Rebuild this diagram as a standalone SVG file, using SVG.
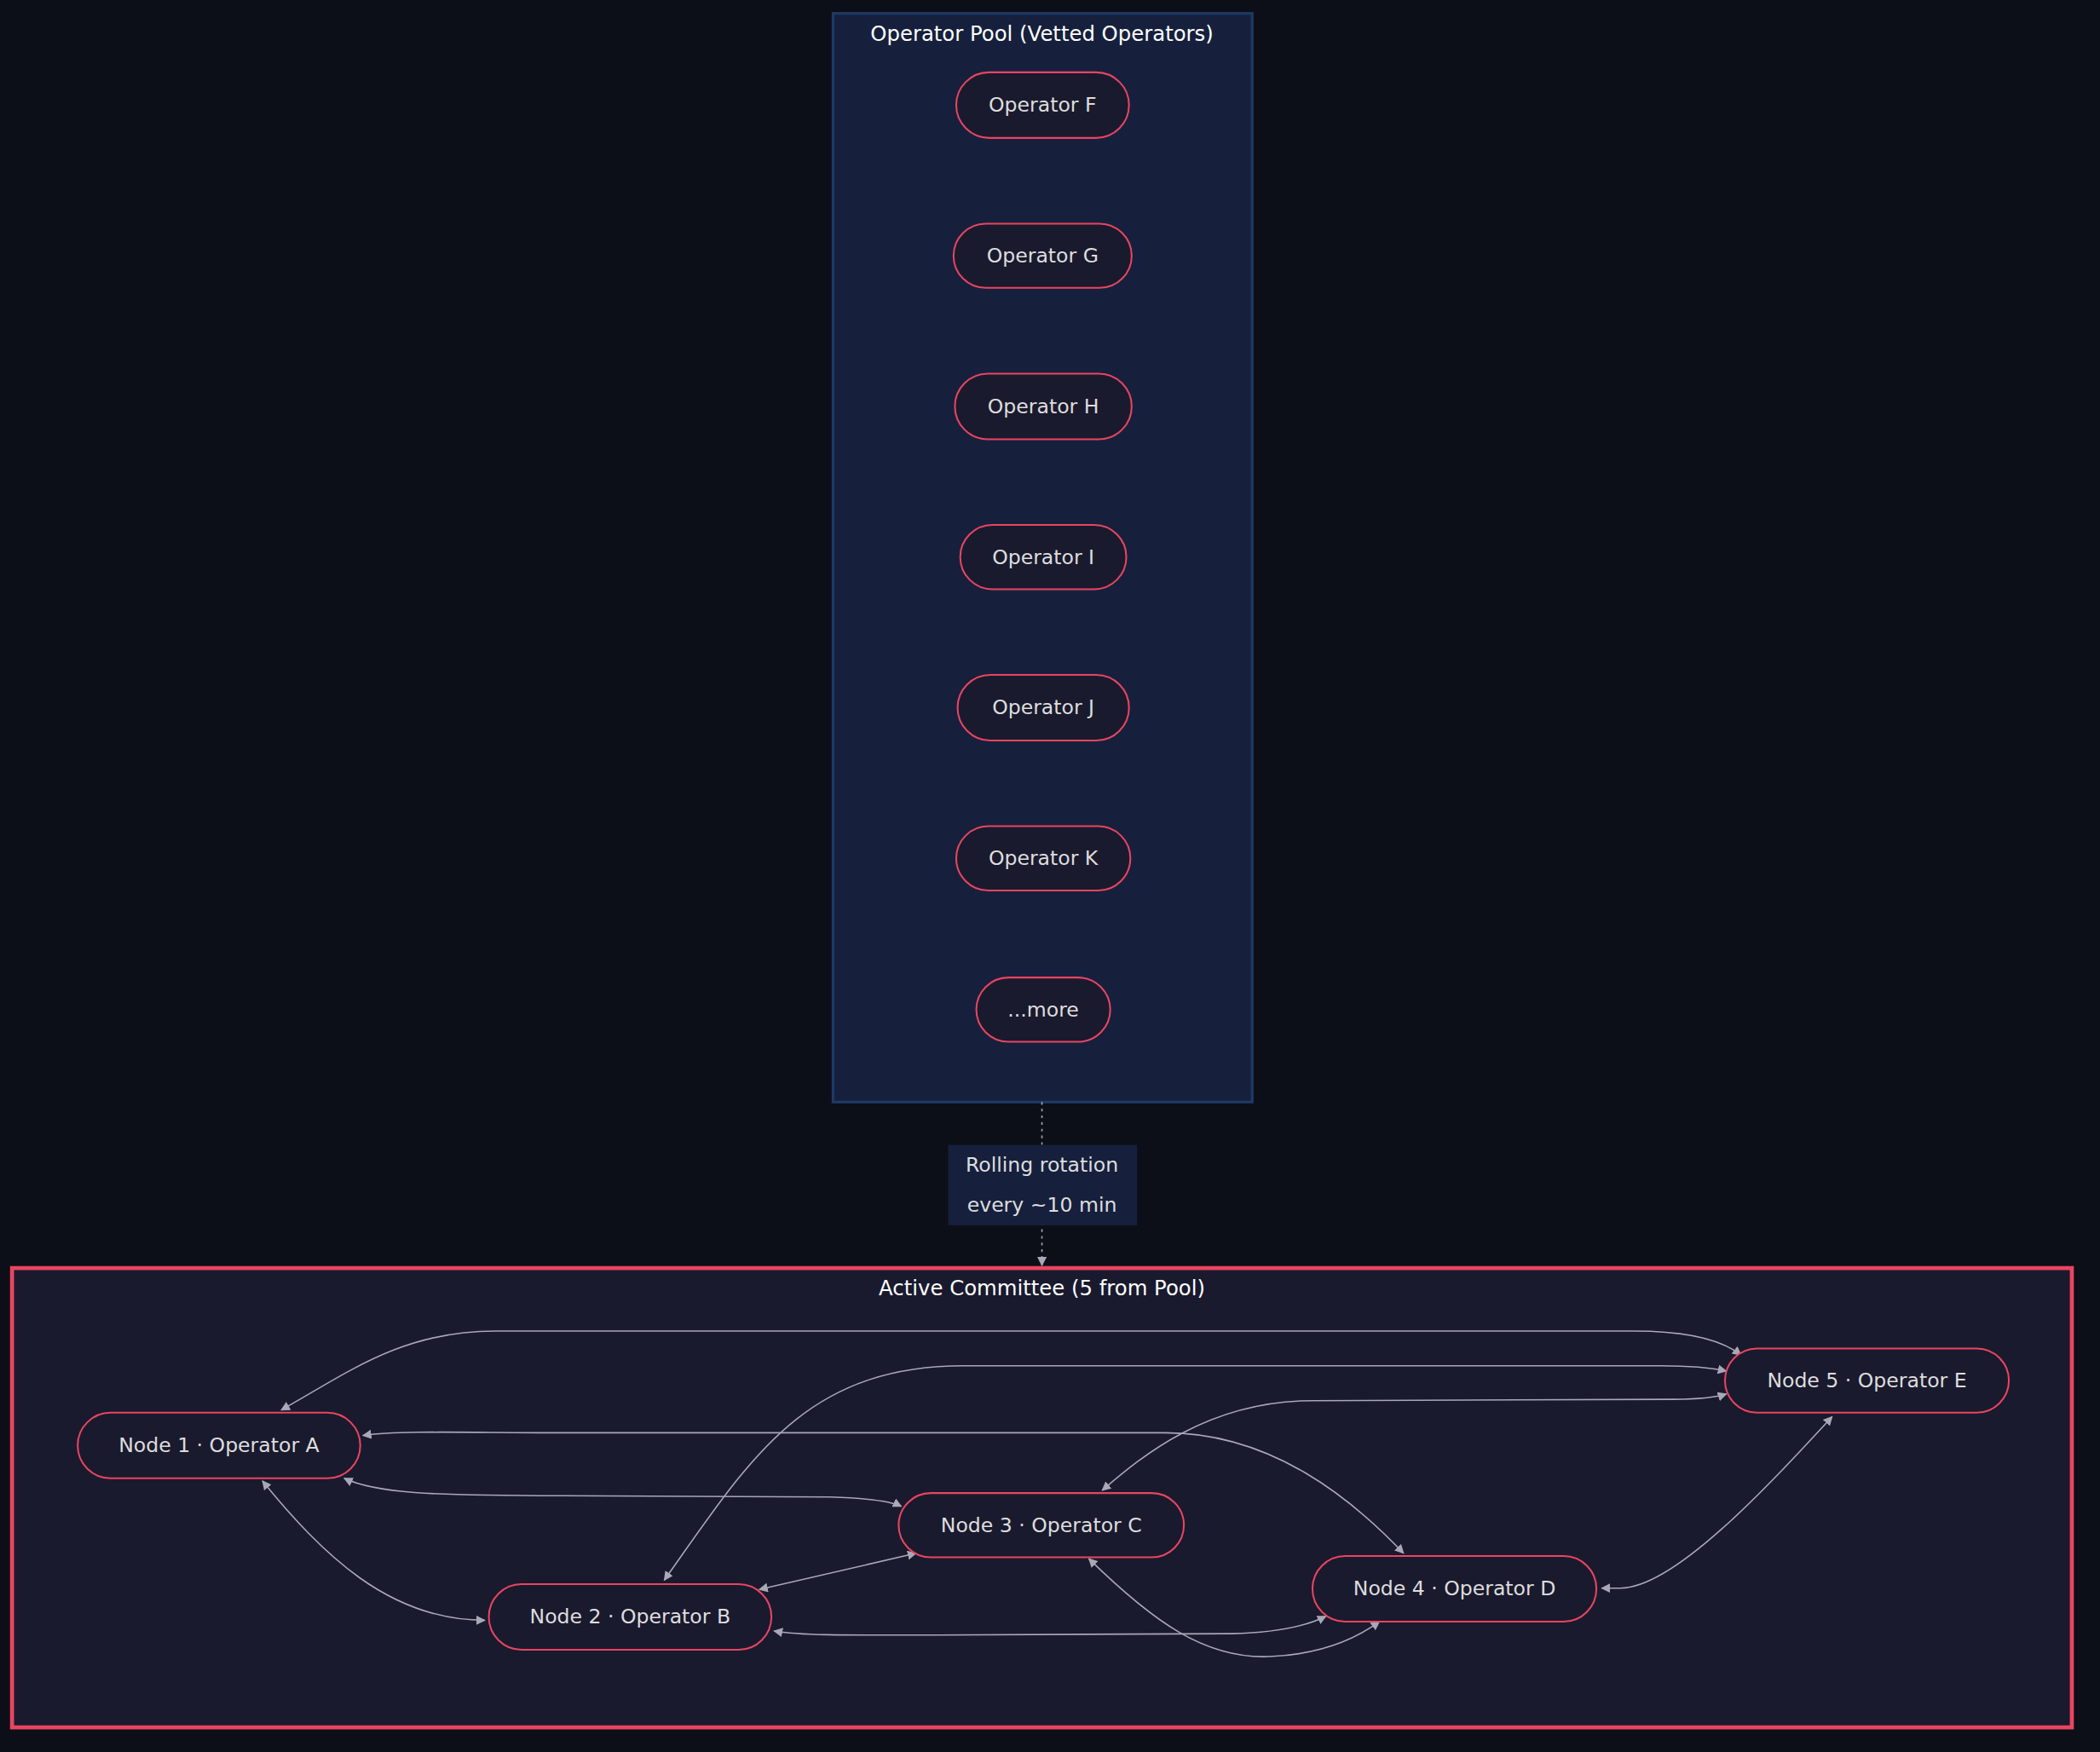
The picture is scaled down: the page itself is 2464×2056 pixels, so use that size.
<svg xmlns="http://www.w3.org/2000/svg" width="2464" height="2056" viewBox="0 0 2464 2056">
<defs>
<style>
.n rect{fill:#1a1a2e;stroke:#e94560;stroke-width:1.3}
.n text,.t{font-family:"DejaVu Sans",sans-serif;font-size:15px;fill:#dddddd;text-anchor:middle;dominant-baseline:central}
.h{font-family:"DejaVu Sans",sans-serif;font-size:15.5px;fill:#ffffff;text-anchor:middle;dominant-baseline:central}
.e path{fill:none;stroke:#a8a8b8;stroke-width:1;marker-start:url(#a);marker-end:url(#a)}
</style>
<marker id="a" viewBox="0 0 10 10" refX="9" refY="5" markerWidth="7" markerHeight="7" orient="auto-start-reverse"><path d="M0,0 L10,5 L0,10 z" fill="#a8a8b8"/></marker>
<marker id="b" viewBox="0 0 10 10" refX="9" refY="5" markerWidth="7" markerHeight="7" orient="auto"><path d="M0,0 L10,5 L0,10 z" fill="#a8a8b8"/></marker>
</defs>
<rect width="2464" height="2056" fill="#0d0f18"/>
<g transform="scale(1.5714)">
<g id="pool">
<rect x="622" y="10" width="313" height="813" fill="#16203d" stroke="#1e3a66" stroke-width="2"/>
<text class="h" x="778" y="25">Operator Pool (Vetted Operators)</text>
</g>
<g id="committee">
<rect x="9" y="947" width="1538" height="343" fill="#1a1a2e" stroke="#e94560" stroke-width="3"/>
<text class="h" x="778" y="962">Active Committee (5 from Pool)</text>
</g>
<g id="edges" class="e">
<path d="M210,1053 C260,1025 300,994 370,994 L1220,994 C1260,994 1285,1000 1300,1012"/>
<path d="M496,1180 C560,1090 600,1020 720,1020 L1240,1020 C1265,1020 1280,1022 1289,1024"/>
<path d="M823,1113 C850,1090 900,1046 980,1046 L1250,1045 C1270,1045 1283,1043 1289,1041"/>
<path d="M271,1072 C300,1068 350,1070 420,1070 L870,1070 C950,1070 1010,1120 1048,1160"/>
<path d="M257,1104 C280,1115 320,1117 420,1117 L620,1118 C650,1119 665,1121 673,1125"/>
<path d="M196,1106 C240,1160 290,1210 362,1210"/>
<path d="M567,1187 L684,1160"/>
<path d="M578,1218 C600,1222 650,1221 700,1221 L920,1220 C960,1219 980,1212 990,1207"/>
<path d="M813,1164 C860,1210 900,1240 950,1237 C990,1235 1015,1222 1030,1211"/>
<path d="M1368,1058 C1320,1110 1250,1186 1210,1186 L1196,1186"/>
<path d="M778,823 L778,945" style="stroke-dasharray:2,3;marker-start:none;marker-end:url(#b)"/>
</g>
<g id="rotation-label">
<rect x="708" y="855" width="141" height="60" fill="#16203d"/>
<text class="t" x="778" y="870">Rolling rotation</text>
<text class="t" x="778" y="900">every ~10 min</text>
</g>
<g id="opF" class="n"><rect x="714" y="54" width="129" height="49" rx="24.5"/><text x="778.5" y="78.5">Operator F</text></g>
<g id="opG" class="n"><rect x="712" y="167" width="133" height="48" rx="24"/><text x="778.5" y="191">Operator G</text></g>
<g id="opH" class="n"><rect x="713" y="279" width="132" height="49" rx="24.5"/><text x="779" y="303.5">Operator H</text></g>
<g id="opI" class="n"><rect x="717" y="392" width="124" height="48" rx="24"/><text x="779" y="416">Operator I</text></g>
<g id="opJ" class="n"><rect x="715" y="504" width="128" height="49" rx="24.5"/><text x="779" y="528.5">Operator J</text></g>
<g id="opK" class="n"><rect x="714" y="617" width="130" height="48" rx="24"/><text x="779" y="641">Operator K</text></g>
<g id="more" class="n"><rect x="729" y="730" width="100" height="48" rx="24"/><text x="779" y="754">...more</text></g>
<g id="n1" class="n"><rect x="58" y="1055" width="211" height="49" rx="24.5"/><text x="163.5" y="1079.5">Node 1 · Operator A</text></g>
<g id="n2" class="n"><rect x="365" y="1183" width="211" height="49" rx="24.5"/><text x="470.5" y="1207.5">Node 2 · Operator B</text></g>
<g id="n3" class="n"><rect x="671" y="1115" width="213" height="48" rx="24"/><text x="777.5" y="1139">Node 3 · Operator C</text></g>
<g id="n4" class="n"><rect x="980" y="1162" width="212" height="49" rx="24.5"/><text x="1086" y="1186.5">Node 4 · Operator D</text></g>
<g id="n5" class="n"><rect x="1288" y="1007" width="212" height="48" rx="24"/><text x="1394" y="1031">Node 5 · Operator E</text></g>
</g>
</svg>
